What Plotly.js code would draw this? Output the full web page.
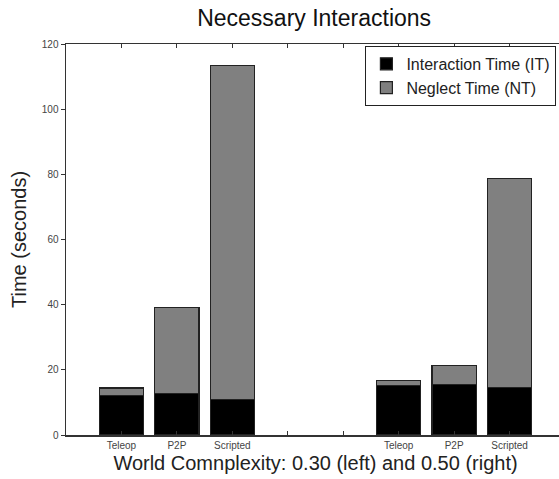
<!DOCTYPE html>
<html>
<head>
<meta charset="utf-8">
<script src="https://cdn.plot.ly/plotly-3.0.1.min.js"></script>
<style>
html, body { margin: 0; padding: 0; overflow: hidden; background: #fff; }
#chart { width: 566px; height: 479px; }
</style>
</head>
<body>
<div id="chart"></div>
<script>
// Data
const methods = ['Teleop', 'P2P', 'Scripted'];
const complexities = ['0.30', '0.50'];
const interactionTime = [12.2, 12.7, 10.9, 15.2, 15.4, 14.7];   // IT
const neglectTime     = [2.2, 26.4, 102.4, 1.5, 6.0, 64.0];     // NT
const seriesNames = ['Interaction Time (IT)', 'Neglect Time (NT)'];

// Build positions: each complexity group has 3 bars, with a 2-slot gap between groups
const xs = [];
const tickVals = [];
const tickText = [];
complexities.forEach((c, g) => {
  methods.forEach((m, i) => {
    xs.push(g * 5 + i + 1);
  });
});
for (let v = 1; v <= 8; v++) {
  tickVals.push(v);
  const idx = xs.indexOf(v);
  tickText.push(idx >= 0 ? methods[idx % methods.length] : '');
}

const font = 'Liberation Sans, Arial, Helvetica, sans-serif';

const traces = [
  {
    type: 'bar', x: xs, y: interactionTime, name: seriesNames[0],
    width: 0.8,
    marker: { color: '#000000', line: { color: '#222', width: 1.2 } }
  },
  {
    type: 'bar', x: xs, y: neglectTime, name: seriesNames[1],
    width: 0.8,
    marker: { color: '#808080', line: { color: '#222', width: 1.2 } }
  }
];

const layout = {
  width: 566, height: 479,
  margin: { l: 66, r: 1, t: 44, b: 44 },
  paper_bgcolor: '#fff', plot_bgcolor: '#fff',
  barmode: 'stack',
  showlegend: true,
  title: {
    text: 'Necessary Interactions',
    font: { family: font, size: 23, color: '#111' },
    x: 0.555, xanchor: 'center', y: 0.962, yanchor: 'middle'
  },
  xaxis: {
    range: [0, 9],
    tickmode: 'array', tickvals: tickVals, ticktext: tickText,
    ticks: 'inside', ticklen: 4, tickwidth: 1, tickcolor: '#333',
    showline: true, linecolor: '#333', linewidth: 1.5, mirror: 'ticks',
    showgrid: false, zeroline: false,
    tickfont: { family: font, size: 10, color: '#444' },
    title: {
      text: 'World Comnplexity: 0.30 (left) and 0.50 (right)',
      font: { family: font, size: 20, color: '#222' },
      standoff: 6
    }
  },
  yaxis: {
    range: [0, 120], dtick: 20,
    ticks: 'outside', ticklen: 4, tickwidth: 1, tickcolor: '#333',
    showline: true, linecolor: '#333', linewidth: 1.5, mirror: 'ticks',
    showgrid: false, zeroline: false,
    tickfont: { family: font, size: 10, color: '#444' },
    title: {
      text: 'Time (seconds)',
      font: { family: font, size: 20, color: '#222' },
      standoff: 10
    }
  },
  legend: {
    x: 0.6, xanchor: 'left', y: 0.995, yanchor: 'top',
    bgcolor: '#fff', bordercolor: '#222', borderwidth: 1,
    font: { family: font, size: 16, color: '#222' },
    tracegroupgap: 0, traceorder: 'normal',
    itemwidth: 30
  },
  font: { family: font }
};

Plotly.newPlot('chart', traces, layout, { displayModeBar: false, staticPlot: true });
</script>
</body>
</html>
